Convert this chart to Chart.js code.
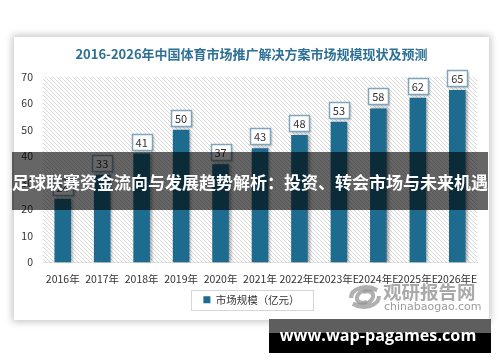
<!DOCTYPE html>
<html><head><meta charset="utf-8">
<script src="https://cdn.jsdelivr.net/npm/chart.js@4/dist/chart.umd.min.js"></script>
<style>
html,body{margin:0;padding:0;background:#fff;width:500px;height:362px;overflow:hidden;}
#wrap{position:relative;width:500px;height:362px;}
#card{position:absolute;left:14px;top:37px;width:475px;height:283px;background:#fff;box-shadow:0 0 7px 2px rgba(0,0,0,0.22);}
#chart{position:absolute;left:0;top:0;}
#wm{position:absolute;left:347px;top:280px;width:135px;height:34px;}
#wm1{position:absolute;left:36px;top:0px;font:bold 18.5px "Noto Sans CJK SC";color:rgba(140,140,140,0.75);white-space:nowrap;line-height:22px;letter-spacing:0px;}
#wm2{position:absolute;left:37px;top:20px;font:11px "DejaVu Sans";color:rgba(130,130,130,0.8);white-space:nowrap;line-height:14px;}
#banner{position:absolute;left:12px;top:152px;width:476px;height:58px;background:rgba(0,0,0,0.6);color:#fff;font:bold 17px "Noto Sans CJK SC";display:flex;align-items:center;justify-content:center;white-space:nowrap;}
#site{position:absolute;left:269px;top:319px;width:222px;height:34px;background:linear-gradient(#5e5e5e 0,#5e5e5e 14px,#000 14px,#000 100%);}
#sitetxt{position:absolute;left:0;width:218px;top:4px;text-align:center;color:#fff;font:bold 16.2px "Open Sans";white-space:nowrap;line-height:24px;}
</style></head>
<body><div id="wrap">
<div id="card"></div>
<canvas id="chart" width="500" height="362"></canvas>
<div id="wm"><svg width="36" height="30" style="position:absolute;left:0;top:2px" viewBox="0 0 36 30">
<path d="M4 16 C4 6 20 2 30 8 C22 6 12 8 10 15 C9 20 14 22 20 20" fill="none" stroke="rgba(150,150,150,0.75)" stroke-width="4"/>
<path d="M32 14 C32 24 16 28 6 22 C14 24 24 22 26 15 C27 10 22 8 16 10" fill="none" stroke="rgba(150,150,150,0.75)" stroke-width="4"/>
</svg><div id="wm1">观研报告网</div><div id="wm2">chinabaogao.com</div></div>
<div id="banner">足球联赛资金流向与发展趋势解析：投资、转会市场与未来机遇</div>
<div id="site"><div id="sitetxt">www.wap-pagames.com</div></div>
</div>
<script>
const chartTitle = '2016-2026年中国体育市场推广解决方案市场规模现状及预测';
const categories = ['2016年','2017年','2018年','2019年','2020年','2021年','2022年E','2023年E','2024年E','2025年E','2026年E'];
const seriesName = '市场规模（亿元）';
const marketSize = [24, 33, 41, 50, 37, 43, 48, 53, 58, 62, 65];
const yMin = 0, yMax = 70, yStep = 10;

const barColor = '#1d6b8f';
const fontCJK = '"Noto Sans CJK SC", "Noto Sans", sans-serif';

function makeHatch(){
  const c = document.createElement('canvas'); c.width = 4; c.height = 4;
  const g = c.getContext('2d');
  g.fillStyle = '#ffffff'; g.fillRect(0,0,4,4);
  g.strokeStyle = '#d9d9d9'; g.lineWidth = 1;
  g.beginPath();
  g.moveTo(-1,-1); g.lineTo(5,5);
  g.moveTo(-1,3); g.lineTo(1,5);
  g.moveTo(3,-1); g.lineTo(5,1);
  g.stroke();
  return c;
}

const shiftPlugin = {
  id: 'shiftBoxes',
  afterLayout(chart){
    const d = 6;
    [chart.legend, chart.titleBlock].forEach(b => {
      if (b) { b.left += d; b.right += d; }
    });
  }
};

const hatchPlugin = {
  id: 'hatch',
  beforeDatasetsDraw(chart){
    const {ctx, chartArea:a} = chart;
    ctx.save();
    ctx.fillStyle = ctx.createPattern(makeHatch(), 'repeat');
    ctx.fillRect(a.left, a.top, a.right - a.left, a.bottom - a.top);
    ctx.restore();
    ctx.save();
    ctx.shadowColor = 'rgba(0,0,0,0.35)';
    ctx.shadowBlur = 3;
    ctx.shadowOffsetX = 2;
    ctx.shadowOffsetY = 0;
  },
  afterDatasetsDraw(chart){
    chart.ctx.restore();
  }
};

const labelPlugin = {
  id: 'boxLabels',
  afterDatasetsDraw(chart){
    const ctx = chart.ctx;
    const meta = chart.getDatasetMeta(0);
    const data = chart.data.datasets[0].data;
    ctx.save();
    ctx.font = '11px ' + fontCJK;
    ctx.textAlign = 'center';
    ctx.textBaseline = 'middle';
    meta.data.forEach((bar, i) => {
      const t = String(data[i]);
      const w = Math.round(ctx.measureText(t).width + 8), h = 16;
      const x = Math.round(bar.x - w/2) + 0.5, y = Math.round(bar.y - 4 - h) + 0.5;
      ctx.shadowColor = 'rgba(0,0,0,0.25)'; ctx.shadowBlur = 2; ctx.shadowOffsetX = 1; ctx.shadowOffsetY = 1;
      ctx.fillStyle = '#fff'; ctx.fillRect(x, y, w, h);
      ctx.shadowColor = 'transparent';
      ctx.strokeStyle = '#7fa5bb'; ctx.lineWidth = 1.5; ctx.strokeRect(x, y, w, h);
      ctx.fillStyle = '#333'; ctx.fillText(t, bar.x, y + h/2 + 0.5);
    });
    ctx.restore();
  }
};

const legendBoxPlugin = {
  id: 'legendBox',
  afterDraw(chart){
    const lg = chart.legend;
    if (!lg || !lg.legendHitBoxes || !lg.legendHitBoxes.length) return;
    const hb = lg.legendHitBoxes[0];
    const cx = hb.left + hb.width/2, cy = hb.top + hb.height/2;
    const ctx = chart.ctx;
    ctx.save();
    ctx.strokeStyle = '#d6d6d6'; ctx.lineWidth = 1;
    ctx.strokeRect(Math.round(cx - 61) + 0.5, Math.round(cy - 10) + 0.5, 122, 20);
    ctx.restore();
  }
};

new Chart(document.getElementById('chart'), {
  type: 'bar',
  data: {
    labels: categories,
    datasets: [{
      label: seriesName,
      data: marketSize,
      backgroundColor: barColor,
      borderWidth: 0,
      categoryPercentage: 1,
      barPercentage: 0.42
    }]
  },
  options: {
    responsive: false,
    animation: false,
    devicePixelRatio: 1,
    layout: { padding: { left: 14, right: 23, top: 37, bottom: 47 } },
    plugins: {
      tooltip: { enabled: false },
      title: {
        display: true,
        text: chartTitle,
        color: '#2d7096',
        font: { family: fontCJK, size: 13, weight: 'bold' },
        padding: { top: 9, bottom: 15 }
      },
      legend: {
        position: 'bottom',
        labels: {
          boxWidth: 7, boxHeight: 7, padding: 6,
          color: '#333',
          font: { family: fontCJK, size: 10.5 }
        }
      }
    },
    scales: {
      x: {
        grid: { display: false, drawTicks: false },
        border: { display: true, color: '#c8c8c8', width: 1 },
        ticks: {
          autoSkip: false, maxRotation: 0, minRotation: 0,
          padding: 10, color: '#333',
          font: { family: fontCJK, size: 10.5 }
        },
        afterFit(s){ s.height = 26; }
      },
      y: {
        min: yMin, max: yMax,
        grid: { display: false, drawTicks: false },
        border: { display: false },
        ticks: {
          stepSize: yStep, padding: 10, color: '#333',
          font: { family: fontCJK, size: 10.5 }
        },
        afterFit(s){ s.width = 29; }
      }
    }
  },
  plugins: [shiftPlugin, hatchPlugin, labelPlugin, legendBoxPlugin]
});
</script>
</body></html>
